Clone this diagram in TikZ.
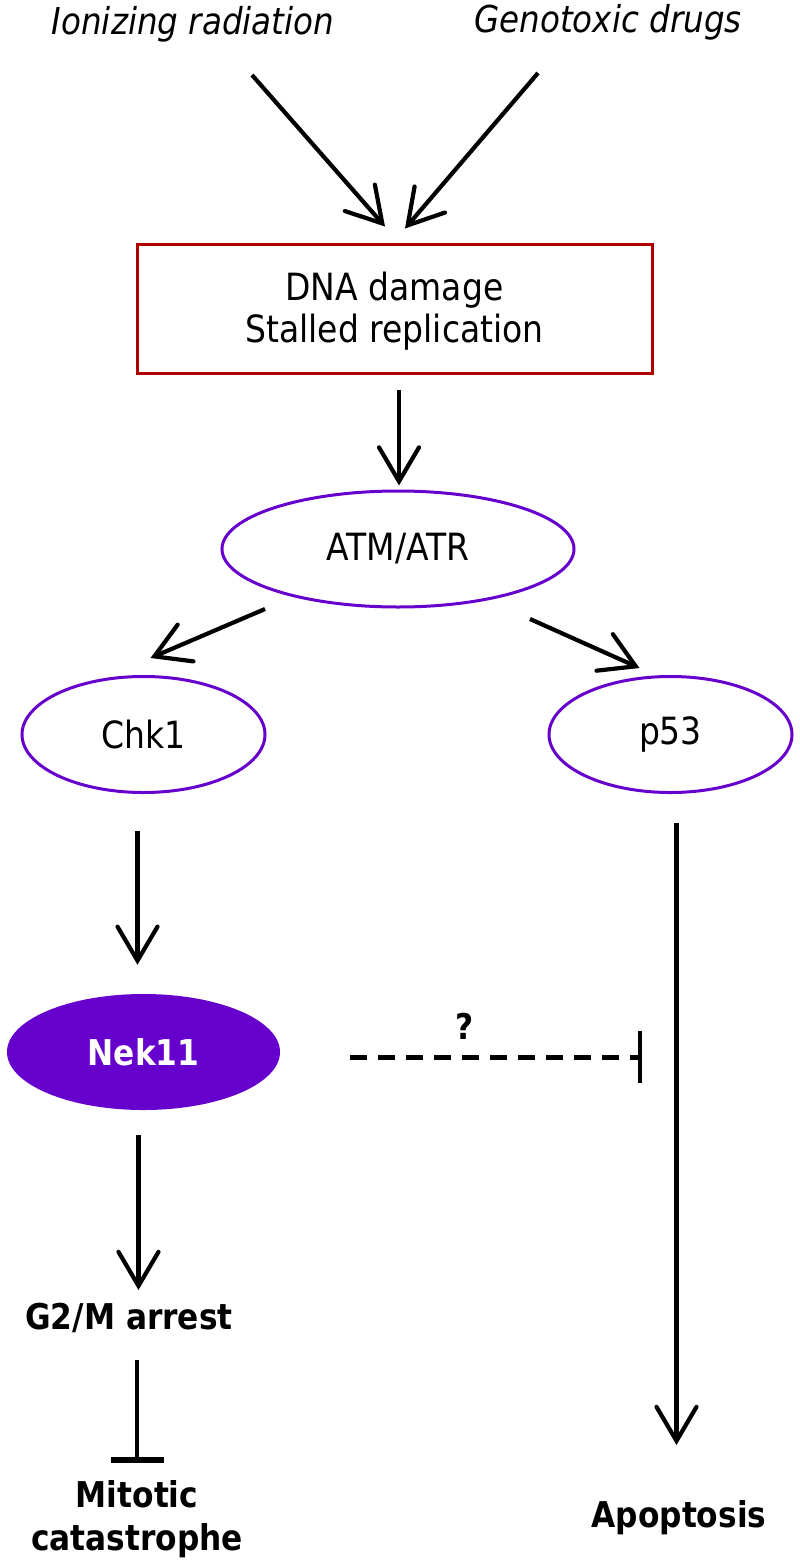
\documentclass[tikz,border=0pt]{standalone}
\usepackage{fontspec}
\setmainfont{DejaVu Sans}[FakeStretch=0.88]
\newfontfamily\bfam{DejaVu Sans}[FakeStretch=0.88]
\usetikzlibrary{arrows.meta,shapes.geometric,calc}
\definecolor{boxred}{HTML}{B00000}
\definecolor{purp}{HTML}{6600CC}
\begin{document}
\begin{tikzpicture}[x=1pt,y=-1pt,
  ital/.style={font=\fontsize{37}{45}\selectfont\itshape, inner sep=0pt},
  bold/.style={font=\bfam\bfseries\fontsize{35.5}{43}\selectfont, inner sep=0pt, align=center},
  redbox/.style={draw=boxred, line width=3pt, minimum width=515pt, minimum height=129pt, inner sep=0pt, align=center, font=\fontsize{37.5}{42}\selectfont},
  ell/.style={ellipse, draw=purp, line width=3pt, inner sep=0pt, font=\fontsize{37.5}{45}\selectfont},
  arr/.style={line width=4.2pt, -{Straight Barb[length=34pt,width=40pt,line width=4.2pt,line cap=round]}},
  inh/.style={line width=4.2pt, -{Bar[width=53pt,line width=6pt]}}
]
\useasboundingbox (0,0) rectangle (800,1568);
\fill[white] (0,0) rectangle (800,1568);

\node[ital] (ir) at (193,24) {Ionizing radiation};
\node[ital] (gd) at (608,22) {Genotoxic drugs};
\node[redbox] (dna) at (394.5,308.5) {\rule{0pt}{34pt}DNA damage\\Stalled replication};
\node[ell, minimum width=352pt, minimum height=116pt] (atm) at (398,549) {ATM/ATR};
\node[ell, minimum width=243pt, minimum height=116pt] (chk) at (143.5,734.5) {Chk1};
\node[ell, minimum width=243pt, minimum height=116pt] (p53) at (670.5,734.5) {\raisebox{-3pt}{p53}};
\node[ellipse, fill=purp, minimum width=273pt, minimum height=116pt, inner sep=0pt, text=white, font=\bfam\bfseries\fontsize{35.5}{43}\selectfont] (nek) at (143.5,1052) {Nek11};
\node[bold] (q) at (465,1026) {?};
\node[bold] (g2m) at (129,1318) {G2/M arrest};
\node[bold] (mc) at (137,1519) {Mitotic\\catastrophe};
\node[bold] (apo) at (679,1518) {Apoptosis};

\draw[arr] ($(ir.center)+(59,51)$) -- ($(dna.north)+(-9.5,-16)$);
\draw[arr] ($(gd.center)+(-70,51)$) -- ($(dna.north)+(10.5,-14)$);
\draw[arr] ($(dna.south)+(4.5,15)$) -- ($(atm.north)+(1,-4)$);
\draw[arr] ($(atm.center)+(-133,60)$) -- ($(chk.north)+(7,-17)$);
\draw[arr] ($(atm.center)+(132,70)$) -- ($(p53.north)+(-31,-7)$);
\draw[arr] ($(chk.south)+(-6,37)$) -- ($(nek.north)+(-6,-29)$);
\draw[arr] ($(p53.south)+(6,29)$) -- ($(apo.center)+(-2.5,-73)$);
\draw[arr] ($(nek.south)+(-5,25)$) -- ($(g2m.center)+(9.5,-28)$);
\draw[inh] ($(g2m.center)+(8,42)$) -- ($(mc.north)+(0,-17)$);
\coordinate (blk) at (640,1057);
\draw[line width=5pt, dash pattern=on 17pt off 11pt] ($(nek.east)+(70,5)$) -- (blk);
\draw[line width=4pt] ($(blk)+(0,-26)$) -- ($(blk)+(0,26)$);
\end{tikzpicture}
\end{document}
